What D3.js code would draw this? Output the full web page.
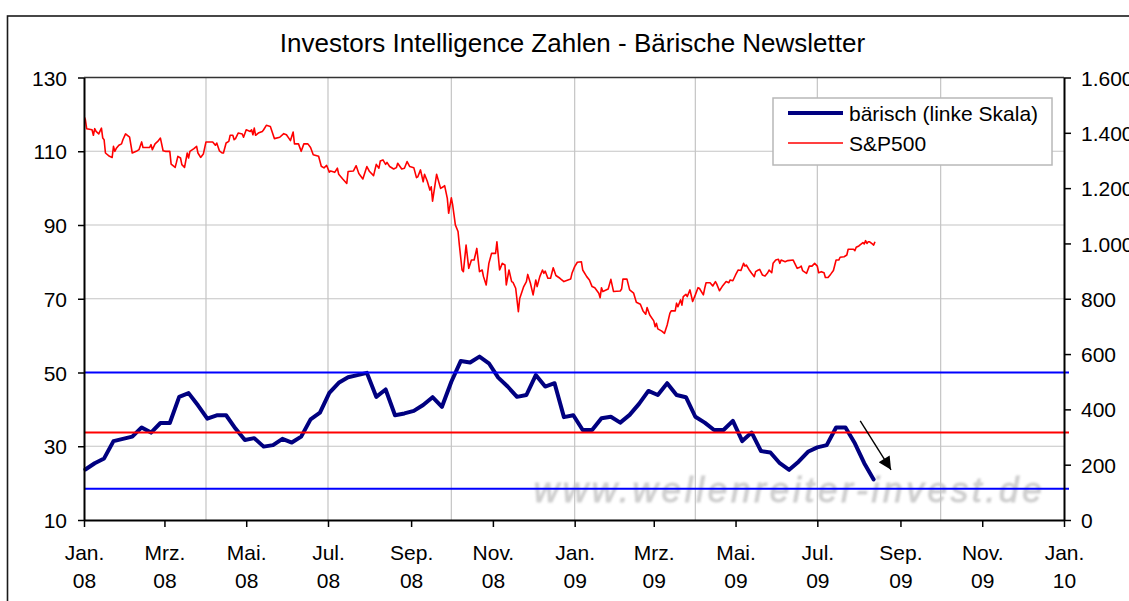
<!DOCTYPE html>
<html><head><meta charset="utf-8">
<script src="https://cdn.jsdelivr.net/npm/d3@7"></script>
<style>
html,body{margin:0;padding:0;background:#fff;}
svg{display:block;font-family:"Liberation Sans",Arial,sans-serif;}
</style></head><body>
<svg id="chart" width="1129" height="601"></svg>
<script>
// ---------- data ----------
const chartTitle = "Investors Intelligence Zahlen - Bärische Newsletter";
const seriesNames = ["bärisch (linke Skala)", "S&P500"];
const watermarkText = "www.wellenreiter-invest.de";

// weekly survey: bearish newsletter share (%), first survey 2008-01-02
const bearStart = "2008-01-02";
const bearValues = [
  23.7,25.4,26.7,31.4,32.0,32.6,35.1,33.7,36.3,36.3,
  43.4,44.4,41.1,37.5,38.4,38.4,34.8,31.7,32.2,29.9,
  30.3,32.0,31.0,32.6,37.3,39.1,44.5,47.2,48.7,49.3,
  49.9,43.4,45.4,38.4,38.9,39.6,41.2,43.3,40.7,47.5,
  53.1,52.7,54.3,52.5,48.6,46.2,43.4,43.9,49.3,46.2,
  47.1,37.9,38.4,34.4,34.4,37.6,38.0,36.4,38.5,41.5,
  45.0,43.9,47.1,43.9,43.3,38.0,36.4,34.4,34.4,36.9,
  31.4,33.7,28.7,28.3,25.4,23.6,25.8,28.5,29.7,30.3,
  35.1,35.1,30.8,25.4,21.0
];

// S&P500 (right scale): day offsets since 2008-01-01 and index level
const spxBase = "2008-01-01";
const spxDays = [
  0,1,2,6,7,8,9,11,13,14, 15,16,19,21,22,23,24,26,28,29,
  31,34,36,39,41,43,44,49,50,51, 53,55,57,59,61,64,65,68,69,70,
  72,73,75,77,78,79,82,84,85,87, 89,91,96,98,99,101,103,104,106,108,
  109,111,112,113,115,118,119,121,124,125, 126,127,128,130,133,134,136,139,142,146,
  149,151,153,154,156,157,160,162,164,167, 169,171,175,177,179,181,183,184,187,189,
  190,193,196,197,201,203,205,208,211,213, 216,218,220,221,223,225,226,228,231,233,
  234,237,239,241,243,246,248,249,251,253, 254,256,258,259,260,263,266,268,269,271,
  272,274,275,276,277,279,280,282,283,285, 287,289,291,293,295,297,298,300,302,304,
  307,308,310,312,314,315,317,319,320,322, 324,325,328,330,331,333,335,337,338,340,
  342,343,344,346,348,350,352,355,358,363, 364,366,368,371,372,375,377,379,381,384,
  385,386,387,391,393,395,400,401,402,405, 407,410,412,415,417,419,420,422,425,426,
  427,428,431,433,435,437,438,441,442,443, 445,446,447,449,450,452,454,456,458,459,
  462,463,464,467,469,471,472,474,476,479, 481,482,484,486,488,490,492,493,494,496,
  498,500,501,503,504,506,508,510,511,513, 514,516,518,519,520,523,525,529,530,532,
  534,535,536,539,541,543,545,547,548,550, 552,553,555,557,559,561,563,564,567,569,
  570,574,575,576,578,581,582,583,584,585, 586,588,589,590
];
const spxValues = [
  1460,1448,1415,1411,1391,1415,1405,1396,1417,1381, 1375,1327,1315,1311,1351,1333,1343,1355,1360,1375,
  1396,1384,1327,1333,1339,1367,1347,1347,1357,1339, 1360,1369,1381,1335,1333,1333,1287,1275,1294,1315,
  1309,1285,1275,1327,1309,1333,1343,1351,1327,1311, 1323,1367,1367,1355,1363,1335,1327,1327,1363,1369,
  1391,1391,1375,1379,1399,1396,1384,1411,1405,1411, 1393,1417,1391,1399,1405,1411,1427,1423,1379,1384,
  1397,1393,1379,1372,1403,1360,1360,1333,1360,1360, 1347,1321,1315,1279,1273,1282,1258,1262,1257,1272,
  1250,1233,1217,1260,1262,1281,1253,1233,1278,1260, 1245,1286,1272,1298,1302,1286,1293,1278,1269,1274,
  1290,1269,1272,1296,1278,1274,1238,1241,1266,1223, 1250,1226,1193,1205,1153,1250,1199,1205,1209,1163,
  1109,1165,1139,1103,1067,1043,994,904,898,994, 910,940,940,982,898,904,880,850,928,964,
  964,1006,904,928,922,850,904,862,859,838, 753,801,844,862,888,856,814,868,844,880,
  904,892,900,874,874,912,884,874,862,871, 892,916,932,934,904,880,868,844,840,820,
  804,840,826,835,870,826,828,835,871,871, 832,820,787,780,756,744,768,741,720,699,
  711,691,683,675,705,747,756,756,784,771, 796,777,808,816,808,832,790,814,840,838,
  814,838,858,858,846,862,853,829,844,862, 858,868,865,886,904,902,928,918,922,906,
  892,880,898,904,906,886,882,894,904,894, 928,940,943,928,940,934,938,940,930,910,
  914,918,902,892,918,918,928,918,894,898, 894,877,877,889,902,940,940,950,952,958,
  979,979,974,986,991,1003,998,1010,1000,1006, 1006,998,994,1006
];

// horizontal marker levels on the left scale: upper, middle, lower
const refLevels = [50, 33.7, 18.5];

// axes
const xDomain = ["2008-01-01", "2010-01-01"];
const leftTicks = [10, 30, 50, 70, 90, 110, 130];
const rightTicks = [0, 200, 400, 600, 800, 1000, 1200, 1400, 1600];
const monthLabels = ["Jan.", "Mrz.", "Mai.", "Jul.", "Sep.", "Nov."]; // bimonthly

// annotation arrow (date, left-scale value)
const arrowFrom = ["2009-08-02", 36.9];
const arrowTo = ["2009-08-25", 23.6];

// ---------- drawing ----------
const svg = d3.select("#chart");
const parse = d3.utcParse("%Y-%m-%d");
const L = 84, R = 1064, T = 77.5, B = 520;

const x = d3.scaleUtc().domain(xDomain.map(parse)).range([L, R]);
const yL = d3.scaleLinear().domain([10, 130]).range([B, T]);
const yR = d3.scaleLinear().domain([0, 1600]).range([B, T]);

const de = d3.formatLocale({decimal: ",", thousands: ".", grouping: [3], currency: ["", "€"]});
const fmtR = de.format(",.0f");

const bearDates = bearValues.map((v, i) => d3.utcWeek.offset(parse(bearStart), i));
const spxBaseDate = parse(spxBase);
const spx = spxDays.map((d, i) => ({date: d3.utcDay.offset(spxBaseDate, d), v: spxValues[i]}));
const bear = bearValues.map((v, i) => ({date: bearDates[i], v}));

svg.append("rect").attr("width", 1129).attr("height", 601).attr("fill", "#fff");

// outer chart frame
svg.append("rect").attr("x", 7.5).attr("y", 16).attr("width", 1200).attr("height", 700)
  .attr("fill", "none").attr("stroke", "#1a1a1a").attr("stroke-width", 1.6);

// title
svg.append("text").attr("x", 572.5).attr("y", 52).attr("text-anchor", "middle")
  .attr("font-size", 26).attr("fill", "#000").text(chartTitle);

// gridlines
const gGrid = svg.append("g");
gGrid.selectAll("line.h").data(leftTicks.filter(t => t > 10 && t < 130)).join("line")
  .attr("x1", L).attr("x2", R).attr("y1", d => yL(d)).attr("y2", d => yL(d))
  .attr("stroke", "#c4c4c4").attr("stroke-width", 1.2);
const quarters = d3.utcMonth.every(3).range(x.domain()[0], x.domain()[1]).filter(d => +d > +x.domain()[0]);
gGrid.selectAll("line.v").data(quarters).join("line")
  .attr("x1", d => x(d)).attr("x2", d => x(d)).attr("y1", T).attr("y2", B)
  .attr("stroke", "#c4c4c4").attr("stroke-width", 1.2);

// plot-area top border
svg.append("line").attr("x1", L).attr("x2", R).attr("y1", T).attr("y2", T)
  .attr("stroke", "#333").attr("stroke-width", 1.5);

// watermark
const defs = svg.append("defs");
defs.append("filter").attr("id", "blur").append("feGaussianBlur").attr("stdDeviation", 1.2);
svg.append("text").attr("x", x(parse("2009-01-01")) - 41).attr("y", 502)
  .attr("font-size", 35).attr("font-style", "italic").attr("fill", "#c6c6c6")
  .attr("stroke", "#c6c6c6").attr("stroke-width", 1)
  .attr("opacity", 0.85).attr("filter", "url(#blur)")
  .attr("textLength", 508).attr("lengthAdjust", "spacing").text(watermarkText);

// clip
defs.append("clipPath").attr("id", "plotclip").append("rect")
  .attr("x", L).attr("y", T).attr("width", R - L).attr("height", B - T);

// S&P500 line
svg.append("path").datum(spx).attr("clip-path", "url(#plotclip)")
  .attr("d", d3.line().x(d => x(d.date)).y(d => yR(d.v)))
  .attr("fill", "none").attr("stroke", "#ff0000").attr("stroke-width", 1.6)
  .attr("stroke-linejoin", "round");

// bearish line
svg.append("path").datum(bear)
  .attr("d", d3.line().x(d => x(d.date)).y(d => yL(d.v)))
  .attr("fill", "none").attr("stroke", "#000080").attr("stroke-width", 4)
  .attr("stroke-linejoin", "round").attr("stroke-linecap", "round");

// reference lines
const refColors = ["#0000ff", "#ff0000", "#0000ff"];
svg.append("g").selectAll("line").data(refLevels).join("line")
  .attr("x1", L).attr("x2", R + 5).attr("y1", d => yL(d)).attr("y2", d => yL(d))
  .attr("stroke", (d, i) => refColors[i]).attr("stroke-width", 2);

// axes
const fs = 21;
const axL = svg.append("g").attr("transform", `translate(${L},0)`)
  .call(d3.axisLeft(yL).tickValues(leftTicks).tickSize(6).tickPadding(11).tickSizeOuter(0));
const axR = svg.append("g").attr("transform", `translate(${R},0)`)
  .call(d3.axisRight(yR).tickValues(rightTicks).tickFormat(fmtR).tickSize(7).tickPadding(10).tickSizeOuter(0));
const monthTicks = d3.utcMonth.every(2).range(x.domain()[0], d3.utcDay.offset(x.domain()[1], 1));
const axB = svg.append("g").attr("transform", `translate(0,${B})`)
  .call(d3.axisBottom(x).tickValues(monthTicks).tickFormat(() => "").tickSize(7).tickSizeOuter(0));
[axL, axR, axB].forEach(g => {
  g.select(".domain").attr("stroke", "#000").attr("stroke-width", 2);
  g.selectAll(".tick line").attr("stroke", "#000").attr("stroke-width", 1.5);
  g.selectAll("text").attr("font-size", fs).attr("fill", "#000")
    .attr("font-family", '"Liberation Sans", Arial, sans-serif');
});
axL.selectAll(".tick text").attr("dy", "0.36em");
axR.selectAll(".tick text").attr("dy", "0.36em");
axB.selectAll(".tick text").each(function(d) {
  const t = d3.select(this).attr("dy", null).attr("y", null);
  t.append("tspan").attr("x", 0).attr("y", 39.5).text(monthLabels[d.getUTCMonth() / 2]);
  t.append("tspan").attr("x", 0).attr("y", 68).text(d3.utcFormat("%y")(d));
});

// arrow annotation
defs.append("marker").attr("id", "arrowhead").attr("viewBox", "0 0 10 10")
  .attr("refX", 10).attr("refY", 5).attr("markerWidth", 16).attr("markerHeight", 13)
  .attr("markerUnits", "userSpaceOnUse").attr("orient", "auto")
  .append("path").attr("d", "M0,0 L10,5 L0,10 z").attr("fill", "#000");
svg.append("line")
  .attr("x1", x(parse(arrowFrom[0]))).attr("y1", yL(arrowFrom[1]))
  .attr("x2", x(parse(arrowTo[0]))).attr("y2", yL(arrowTo[1]))
  .attr("stroke", "#000").attr("stroke-width", 1.4)
  .attr("marker-end", "url(#arrowhead)");

// legend
const lg = svg.append("g");
lg.append("rect").attr("x", 773).attr("y", 98).attr("width", 279).attr("height", 67)
  .attr("fill", "#fff").attr("stroke", "#b8b8b8").attr("stroke-width", 1.5);
const legStyles = [{c: "#000080", w: 4}, {c: "#ff0000", w: 1.6}];
seriesNames.forEach((name, i) => {
  const yy = 113 + i * 30;
  lg.append("line").attr("x1", 788).attr("x2", 843).attr("y1", yy).attr("y2", yy)
    .attr("stroke", legStyles[i].c).attr("stroke-width", legStyles[i].w);
  lg.append("text").attr("x", 849).attr("y", yy).attr("dy", "0.36em")
    .attr("font-size", 21).attr("fill", "#000").text(name);
});
</script>
</body></html>
